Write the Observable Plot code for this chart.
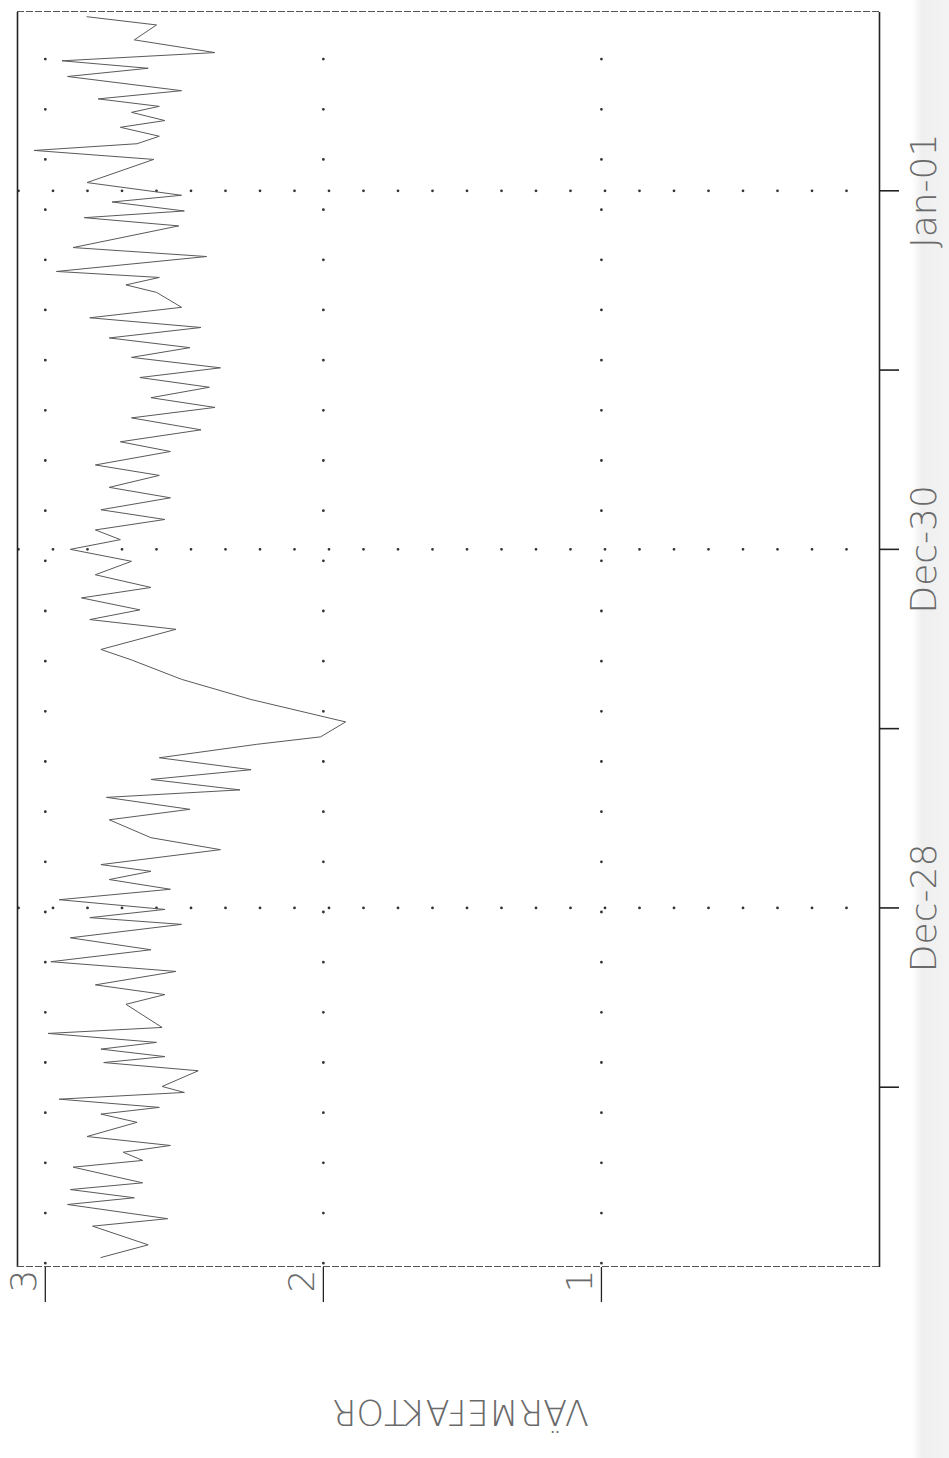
<!DOCTYPE html>
<html>
<head>
<meta charset="utf-8">
<script src="https://cdn.jsdelivr.net/npm/d3@7"></script>
<script src="https://cdn.jsdelivr.net/npm/@observablehq/plot@0.6"></script>
<style>
  html, body { margin: 0; padding: 0; }
  body {
    width: 949px; height: 1458px; overflow: hidden; position: relative;
    background: linear-gradient(to right, #ffffff 0px, #ffffff 912px, #efefef 922px, #f3f3f3 949px);
  }
  #chart {
    position: absolute; left: 0; top: 0; width: 1458px; height: 949px;
    transform-origin: 0 0;
    transform: translate(0px, 1458px) rotate(-90deg);
  }
</style>
</head>
<body>
<div id="chart"></div>
<script>
// ---- data (hours since 26 Dec 00:00, heat factor values) ----
const hours = [
  1.2, 2.9, 5.4, 6.4, 8.3, 9.2, 10.3, 11.2, 13.3, 14.2, 15.3, 16.2, 17.4, 19.3, 20.4, 21.3, 22.4, 23.3,
  24.1, 26.2, 27.3, 28.1, 29.1, 30.0, 31.2, 32.0, 35.1, 36.4, 37.7, 39.5, 40.8, 42.4, 44.0, 45.8, 46.7, 47.8,
  49.1, 50.5, 51.8, 52.9, 53.8, 55.8, 57.4, 59.8, 61.2, 62.8, 63.8, 65.2, 66.5, 68.1, 69.9, 70.9,
  72.9, 75.9, 78.6, 81.2, 82.6, 85.3, 86.6, 87.9, 89.5, 90.9, 92.6, 94.4,
  96.0, 97.3, 98.6, 100.0, 101.3, 102.9, 104.3, 105.9, 107.3, 109.1, 110.4, 112.0, 113.6, 115.0, 116.3, 117.7, 119.0,
  120.3, 121.7, 123.0, 124.3, 125.7, 127.0, 128.4, 130.4, 131.4, 132.4, 133.2, 135.2, 136.4, 139.3, 140.4, 141.3, 142.5, 143.4,
  145.1, 148.2, 149.4, 150.3, 151.3, 152.5, 153.4, 154.5, 155.3, 156.3, 157.4, 159.3, 160.4, 161.4, 162.5, 164.2, 166.2, 167.3
];
const values = [
  2.80, 2.63, 2.83, 2.56, 2.92, 2.68, 2.91, 2.65, 2.90, 2.65, 2.72, 2.55, 2.85, 2.67, 2.80, 2.59, 2.95, 2.50,
  2.58, 2.45, 2.79, 2.57, 2.80, 2.60, 2.99, 2.58, 2.71, 2.57, 2.82, 2.53, 2.98, 2.62, 2.91, 2.51, 2.84, 2.57,
  2.95, 2.55, 2.77, 2.62, 2.80, 2.37, 2.62, 2.77, 2.48, 2.78, 2.30, 2.62, 2.26, 2.59, 2.24, 2.01,
  1.92, 2.26, 2.51, 2.69, 2.80, 2.53, 2.84, 2.66, 2.87, 2.62, 2.82, 2.69,
  2.91, 2.73, 2.82, 2.57, 2.80, 2.55, 2.77, 2.59, 2.82, 2.55, 2.73, 2.44, 2.69, 2.39, 2.62, 2.41, 2.66,
  2.37, 2.69, 2.48, 2.77, 2.44, 2.84, 2.51, 2.60, 2.71, 2.59, 2.96, 2.42, 2.90, 2.52, 2.86, 2.50, 2.76, 2.51,
  2.85, 2.61, 3.04, 2.67, 2.59, 2.73, 2.57, 2.69, 2.59, 2.81, 2.51, 2.92, 2.63, 2.94, 2.39, 2.68, 2.60, 2.85
];

// ---- axes ----
const startDate = new Date(Date.UTC(1990, 11, 26));
const endDate = new Date(Date.UTC(1991, 0, 2));
const dayTicks = ["1990-12-27", "1990-12-28", "1990-12-29", "1990-12-30", "1990-12-31", "1991-01-01"];
const dayTickLabels = ["", "Dec-28", "", "Dec-30", "", "Jan-01"];
const gridDays = ["1990-12-28", "1990-12-30", "1991-01-01"];
const valueTicks = [1, 2, 3];
const valueDomain = [0, 3.1];
const yLabel = "VÄRMEFAKTOR";

const data = hours.map((h, i) => ({t: new Date(+startDate + h * 3600e3), v: values[i]}));
const tickDates = dayTicks.map(s => new Date(s + "T00:00:00Z"));
const gridDates = gridDays.map(s => new Date(s + "T00:00:00Z"));
const labelOf = d => dayTickLabels[tickDates.findIndex(t => +t === +d)] ?? "";

const font = "'DejaVu Sans', sans-serif";
const ink = "#333";
const textInk = "#6a6a6a";

const chart = Plot.plot({
  width: 1458,
  height: 949,
  marginLeft: 191,
  marginRight: 12,
  marginTop: 17,
  marginBottom: 70,
  x: {type: "utc", domain: [startDate, endDate], label: null},
  y: {domain: valueDomain, label: null},
  style: {fontFamily: font, background: "transparent", overflow: "visible"},
  marks: [
    // dotted grid along value levels
    Plot.ruleY(valueTicks, {stroke: ink, strokeWidth: 2.8, strokeLinecap: "round",
      strokeDasharray: "0,50.17", strokeDashoffset: -3.8}),
    // dotted grid at every second day
    Plot.ruleX(gridDates, {stroke: ink, strokeWidth: 2.8, strokeLinecap: "round",
      strokeDasharray: "0,34.5", strokeDashoffset: -1.5}),
    // frame
    Plot.ruleY([valueDomain[1]], {stroke: "#222", strokeWidth: 1.6}),
    Plot.ruleY([valueDomain[0]], {stroke: "#222", strokeWidth: 1.6}),
    Plot.ruleX([startDate, endDate], {stroke: "#555", strokeWidth: 1.2, strokeDasharray: "7,2"}),
    // time axis
    Plot.axisX({ticks: tickDates, tickSize: 20, tickPadding: 11, tickFormat: labelOf, label: null,
      stroke: "#222", strokeWidth: 1.6, fill: textInk, fontSize: 36, fontWeight: 200, fontFamily: font}),
    // value axis ticks and labels
    Plot.axisY({ticks: valueTicks, tickSize: 35, tickFormat: () => "", label: null, stroke: "#222", strokeWidth: 1.3}),
    Plot.text(valueTicks, {y: d => d, text: d => String(d), frameAnchor: "left", dx: -3, dy: -21,
      textAnchor: "end", lineAnchor: "middle", fill: textInk, fontSize: 36, fontWeight: 200, fontFamily: font}),
    Plot.text([yLabel], {frameAnchor: "left", dx: -145, dy: 12, rotate: -90, textAnchor: "middle",
      lineAnchor: "middle", fill: textInk, fontSize: 35, fontWeight: 200, fontFamily: font}),
    // the series
    Plot.line(data, {x: "t", y: "v", stroke: "#5a5a5a", strokeWidth: 1, strokeLinejoin: "round"})
  ]
});
document.getElementById("chart").appendChild(chart);
</script>
</body>
</html>
